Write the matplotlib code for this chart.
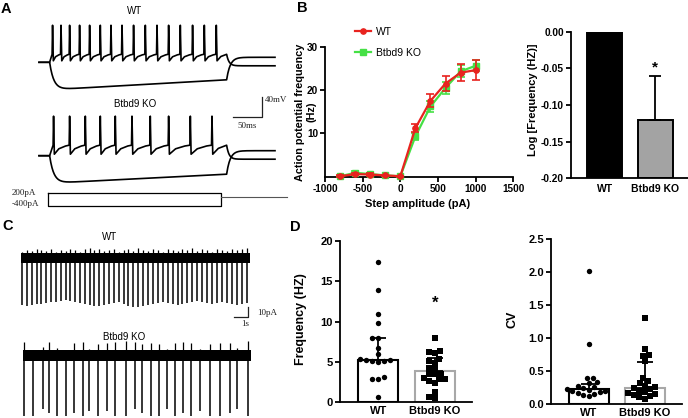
import numpy as np
import matplotlib
matplotlib.use('Agg')
import matplotlib.pyplot as plt
from matplotlib.lines import Line2D

plt.rcParams['font.family'] = ['Liberation Sans', 'DejaVu Sans']
plt.rcParams['axes.unicode_minus'] = False

# ---------------- data ----------------
# A: current-clamp traces, spike times (ms) during the +200 pA step
wt_spikes_ms = [22.5, 36.8, 51.4, 68.3, 85.3, 103.4, 121.5, 140.2, 159.8, 179.7,
                199.5, 219.2, 239.0, 259.8, 279.7, 300.0]
ko_spikes_ms = [24.2, 51.4, 78.0, 103.4, 128.8, 157.1, 188.1, 219.2, 256.0, 292.7]
rest_mv = -65
wt_peak_mv, wt_thr_mv, ko_peak_mv, ko_thr_mv = 9, -49, 14, -44
trough_mv = -60
hyp_min_mv, wt_hyp_end_mv, ko_hyp_end_mv = -120, -100, -102
rebound_mv, ahp_mv = -55, -72
onset_ms, offset_ms, end_ms = 18, 318, 400
stim_on_ms, stim_off_ms = 16, 308
stim_levels_pa = [200, -400]

# B: F-I curve
step_amp = [-800, -600, -400, -200, 0, 200, 400, 600, 800, 1000]
ap_wt = [0.1, 0.6, 0.5, 0.3, 0.1, 11.2, 17.5, 21.5, 24.0, 24.6]
ap_wt_err = [0.2, 0.3, 0.3, 0.2, 0.1, 0.9, 1.5, 1.8, 1.9, 2.4]
ap_ko = [0.1, 0.9, 0.6, 0.3, 0.1, 9.3, 16.2, 20.5, 24.3, 25.6]
ap_ko_err = [0.1, 0.4, 0.3, 0.2, 0.1, 0.8, 1.2, 1.4, 1.4, 1.3]

groups = ['WT', 'Btbd9 KO']
log_freq = [0.0, -0.12]
log_err = [0.0, 0.06]

# C: cell-attached recordings, spike times (s), spike sizes (pA)
wt_spike_t = [0.12, 0.45, 0.79, 1.14, 1.48, 1.82, 2.17, 2.52, 2.85, 3.20,
              3.55, 3.90, 4.22, 4.57, 4.93, 5.27, 5.61, 5.96, 6.31, 6.66,
              7.01, 7.35, 7.70, 8.04, 8.40, 8.75, 9.10, 9.46, 9.80, 10.15,
              10.51, 10.86, 11.21, 11.55, 11.90, 12.26, 12.61, 12.96, 13.30, 13.66,
              14.02, 14.37, 14.72, 15.07, 15.43, 15.78, 16.14]
wt_spike_down = [-47, -48, -47, -46, -46, -45, -44, -44, -43, -42,
                 -43, -44, -45, -46, -47, -48, -48, -47, -46, -45,
                 -44, -46, -48, -49, -49, -48, -47, -46, -45, -44,
                 -45, -46, -47, -46, -45, -44, -43, -44, -45, -46,
                 -45, -44, -45, -46, -47, -46, -45]
wt_spike_up = [6, 8, 7, 9, 8, 7, 9, 6, 8, 7,
               9, 8, 6, 9, 10, 8, 9, 7, 8, 9,
               6, 8, 9, 7, 10, 8, 7, 9, 8, 6,
               9, 8, 7, 9, 8, 10, 7, 9, 8, 6,
               9, 8, 7, 9, 8, 9, 10]
ko_spike_t = [0.24, 0.90, 1.57, 2.04, 2.61, 3.24, 3.81, 4.43, 4.90, 5.50,
              6.14, 6.74, 7.52, 8.16, 8.64, 9.29, 9.90, 10.43, 11.02, 11.57,
              12.14, 12.81, 13.52, 14.24, 14.95, 15.47, 16.26]
ko_spike_down = [-60, -60, -53, -57, -60, -60, -57, -60, -55, -60,
                 -55, -60, -60, -53, -57, -60, -60, -53, -60, -57,
                 -60, -55, -60, -60, -57, -53, -60]
ko_spike_up = [14, 6, 9, 14, 8, 6, 13, 14, 7, 12,
               13, 14, 15, 14, 12, 13, 12, 7, 13, 14,
               13, 7, 12, 13, 13, 8, 15]

# D: firing frequency and CV per cell
freq_wt = [17.4, 13.9, 10.9, 9.8, 7.9, 7.9, 6.7, 6.0, 5.3, 5.2,
           5.2, 5.1, 5.1, 5.0, 3.1, 2.8, 2.8, 0.6]
freq_ko = [7.9, 6.3, 6.2, 6.1, 5.4, 5.1, 4.9, 4.2, 4.2, 3.5,
           3.5, 3.5, 3.0, 2.9, 2.8, 2.6, 2.3, 1.3, 0.6, 0.5]
freq_bar = [5.2, 3.8]
freq_err_top = [7.9, 5.5]
cv_wt = [2.02, 0.91, 0.40, 0.40, 0.33, 0.32, 0.28, 0.26, 0.24, 0.22,
         0.21, 0.20, 0.19, 0.18, 0.16, 0.15, 0.14, 0.12]
cv_ko = [1.31, 0.84, 0.74, 0.73, 0.65, 0.40, 0.35, 0.32, 0.28, 0.26,
         0.24, 0.22, 0.20, 0.18, 0.16, 0.15, 0.13, 0.12, 0.10, 0.08]
cv_bar = [0.22, 0.25]
cv_err_top = [0.30, 0.64]

# ---------------- layout helpers ----------------
W, H = 688, 418
fig = plt.figure(figsize=(W / 100, H / 100), dpi=100)


def px_axes(x0, y0, x1, y1):
    return fig.add_axes([x0 / W, 1 - y1 / H, (x1 - x0) / W, (y1 - y0) / H])


def fig_text(x, y, s, **kw):
    fig.text(x / W, 1 - y / H, s, **kw)


serif = dict(family='Liberation Serif', fontsize=6.5, color='#222222')


def prism_axes(ax, ylim, yticks, ylabels, xlim=None, fs=7.5):
    for s in ['top', 'right']:
        ax.spines[s].set_visible(False)
    for s in ['left', 'bottom']:
        ax.spines[s].set_linewidth(1.3)
    ax.set_ylim(*ylim)
    if xlim is not None:
        ax.set_xlim(*xlim)
    ax.set_yticks(yticks, ylabels, fontsize=fs, fontweight='bold')
    ax.tick_params(width=1.3, length=3.5, pad=1.5)


def swarm(values, xc, y_px, x_px, d_px=5.6):
    # simple beeswarm: place points by value, nearest free offset from centre
    vals = np.asarray(values, float)
    placed = []
    xs = np.zeros(len(vals))
    cands = sorted(np.arange(-30, 30.01, 0.5), key=lambda c: (abs(c), c))
    for i in np.argsort(vals):
        y = vals[i] * y_px
        for c in cands:
            if all((c - px) ** 2 + (y - py) ** 2 >= d_px ** 2 for px, py in placed):
                break
        placed.append((c, y))
        xs[i] = xc + c / x_px
    return xs


# ---------------- panel A ----------------
ms_px, mv_px = 0.59, 0.5
trace_x0, wt_rest_y, ko_rest_y = 39, 62.3, 155.7
ko_shift = -(ko_rest_y - wt_rest_y) / mv_px

axA = px_axes(20, 0, 292, 215)
axA.set_xlim((20 - trace_x0) / ms_px, (292 - trace_x0) / ms_px)
axA.set_ylim(rest_mv - (215 - wt_rest_y) / mv_px, rest_mv + wt_rest_y / mv_px)
axA.axis('off')


def depol_trace(spikes, peak, thr):
    t, v = [0, onset_ms], [rest_mv, rest_mv]
    prev = None
    for ts in spikes:
        if prev is not None:
            t += [prev + 0.3 * (ts - prev), prev + 0.75 * (ts - prev)]
            v += [trough_mv + 0.55 * (thr - trough_mv), trough_mv + 0.9 * (thr - trough_mv)]
        t += [ts - 0.3, ts + 0.5, ts + 1.8]
        v += [thr, peak, trough_mv - 2]
        prev = ts + 1.8
    t += [prev + 0.4 * (offset_ms - prev), offset_ms]
    v += [trough_mv + 0.6 * (thr - trough_mv), thr]
    tt = np.linspace(offset_ms, end_ms, 80)
    vv = ahp_mv + (thr - ahp_mv) * np.exp(-(tt - offset_ms) / 4)
    return np.r_[t, tt], np.r_[v, vv]


def hyper_trace(vend):
    tt = np.linspace(onset_ms, offset_ms, 300)
    lin = hyp_min_mv + (vend - hyp_min_mv) * (tt - onset_ms) / (offset_ms - onset_ms)
    vv = rest_mv + (lin - rest_mv) * (1 - np.exp(-(tt - onset_ms) / 7))
    t2 = np.linspace(offset_ms, end_ms, 80)
    v2 = rebound_mv + (vv[-1] - rebound_mv) * np.exp(-(t2 - offset_ms) / 6)
    return np.r_[0, tt, t2], np.r_[rest_mv, vv, v2]


for spikes, peak, thr, vend, shift in [
        (wt_spikes_ms, wt_peak_mv, wt_thr_mv, wt_hyp_end_mv, 0),
        (ko_spikes_ms, ko_peak_mv, ko_thr_mv, ko_hyp_end_mv, ko_shift)]:
    t, v = depol_trace(spikes, peak, thr)
    axA.plot(t, v + shift, color='k', lw=1.2)
    t, v = hyper_trace(vend)
    axA.plot(t, v + shift, color='k', lw=1.2)

bar_t = (262.3 - trace_x0) / ms_px
bar_top = rest_mv - (96.7 - wt_rest_y) / mv_px
axA.plot([bar_t - 50, bar_t, bar_t], [bar_top - 40, bar_top - 40, bar_top], color='#222222', lw=0.9)
axA.text(bar_t + 4, bar_top - 7, '40mV', ha='left', va='center', **serif)
axA.text(bar_t - 25, bar_top - 51, '50ms', ha='center', va='top', **serif)

# stimulus
pa_px, zero_y = 0.0212, 197.4
axS = px_axes(20, 185, 292, 212)
axS.set_xlim(axA.get_xlim())
axS.set_ylim(-(212 - zero_y) / pa_px, (zero_y - 185) / pa_px)
axS.axis('off')
hi, lo = stim_levels_pa
axS.plot([stim_on_ms, stim_on_ms, stim_off_ms, stim_off_ms, stim_on_ms], [hi, lo, lo, hi, hi],
         color='k', lw=0.9)
axS.plot([stim_off_ms, end_ms + 20], [0, 0], color='#555555', lw=0.8)
fig_text(12, 193, '%dpA' % hi, ha='left', va='center', **serif)
fig_text(12, 203.5, '%dpA' % lo, ha='left', va='center', **serif)

fig_text(135, 11, 'WT', ha='center', va='center', fontsize=7)
fig_text(135, 104, 'Btbd9 KO', ha='center', va='center', fontsize=7)

# ---------------- panel C ----------------
s_px, c_x0, wt_c_y, ko_c_y = 14, 20.7, 258.3, 355.5
axC = px_axes(10, 228, 295, 418)
axC.set_xlim((10 - c_x0) / s_px, (295 - c_x0) / s_px)
axC.set_ylim(-(418 - wt_c_y), wt_c_y - 228)
axC.axis('off')
ko_off = -(ko_c_y - wt_c_y)

axC.fill_between([0, (250 - c_x0) / s_px], -5, 5, color='k', lw=0)
axC.vlines(wt_spike_t, wt_spike_down, 0, color='k', lw=1.1)
axC.vlines(wt_spike_t, 0, wt_spike_up, color='k', lw=0.9)
axC.fill_between([(23.3 - c_x0) / s_px, (251 - c_x0) / s_px], ko_off - 5.5, ko_off + 5.5,
                 color='k', lw=0)
axC.vlines(ko_spike_t, np.array(ko_spike_down) + ko_off, ko_off, color='k', lw=1.1)
axC.vlines(ko_spike_t, ko_off, np.array(ko_spike_up) + ko_off, color='k', lw=0.9)

cb_t = (248.3 - c_x0) / s_px
cb_top = -(306.7 - wt_c_y)
axC.plot([cb_t - 1, cb_t, cb_t], [cb_top - 10, cb_top - 10, cb_top], color='#222222', lw=0.9)
axC.text(cb_t + 0.65, cb_top - 6, '10pA', ha='left', va='center', **serif)
axC.text(cb_t - 0.25, cb_top - 13, '1s', ha='center', va='top', **serif)

fig_text(110, 237, 'WT', ha='center', va='center', fontsize=7)
fig_text(124, 337, 'Btbd9 KO', ha='center', va='center', fontsize=7)

# ---------------- panel B: F-I curve ----------------
red, green = '#e8231f', '#45e045'
axB = px_axes(325, 46.7, 513.3, 176.7)
prism_axes(axB, (0, 30), [10, 20, 30], ['10', '20', '30'], xlim=(-1000, 1500), fs=7.2)
axB.set_xticks(range(-1000, 1501, 500), [str(v) for v in range(-1000, 1501, 500)],
               fontsize=7.2, fontweight='bold')
axB.errorbar(step_amp, ap_ko, yerr=ap_ko_err, color=green, marker='s', ms=3.8, lw=1.6,
             elinewidth=1.2, capsize=2.8, capthick=1.2, clip_on=False, zorder=3)
axB.errorbar(step_amp, ap_wt, yerr=ap_wt_err, color=red, marker='o', ms=3.8, lw=1.6,
             elinewidth=1.2, capsize=2.8, capthick=1.2, clip_on=False, zorder=4)
handles = [Line2D([], [], color=red, marker='o', ms=3.8, lw=1.6),
           Line2D([], [], color=green, marker='s', ms=3.8, lw=1.6)]
fig.legend(handles, groups, loc='upper left', bbox_to_anchor=(355 / W, 1 - 27 / H),
           frameon=False, fontsize=7.5, handlelength=1.5, handletextpad=0.5,
           labelspacing=1.05, borderpad=0, borderaxespad=0)
fig_text(300, 112, 'Action potential frequency', rotation=90, ha='center', va='center',
         fontsize=7.8, fontweight='bold')
fig_text(311.5, 112, '(Hz)', rotation=90, ha='center', va='center',
         fontsize=7.8, fontweight='bold')
fig_text(418, 204, 'Step amplitude (pA)', ha='center', va='center', fontsize=8,
         fontweight='bold')

# ---------------- panel B: log frequency ----------------
axL = px_axes(570.7, 31.7, 688, 178.3)
prism_axes(axL, (-0.2, 0), [0, -0.05, -0.1, -0.15, -0.2],
           ['0.00', '-0.05', '-0.10', '-0.15', '-0.20'], xlim=(-0.67, 1.65), fs=7.3)
base = -0.2
axL.bar([0, 1], [v - base for v in log_freq], bottom=base, width=0.69,
        color=['k', '#a3a3a3'], edgecolor='k', linewidth=1.4, zorder=2)
axL.errorbar([1], [log_freq[1]], yerr=[[0], [log_err[1]]], fmt='none', ecolor='k',
             elinewidth=1.3, capsize=4.5, capthick=1.3, zorder=3)
axL.set_xticks([0, 1], groups, fontsize=7.5, fontweight='bold')
axL.tick_params(axis='x', length=0, pad=4)
axL.text(1, -0.049, '*', ha='center', va='center', fontsize=11, fontweight='bold')
fig_text(533, 100, 'Log [Frequency (HZ)]', rotation=90, ha='center', va='center',
         fontsize=8, fontweight='bold')

# ---------------- panel D ----------------
for box, vals, bars, tops, ylim, yticks, ylabels, ylab, lab_x, star in [
        ((340, 241, 472, 402), (freq_wt, freq_ko), freq_bar, freq_err_top, (0, 20),
         [0, 5, 10, 15, 20], ['0', '5', '10', '15', '20'], 'Frequency (HZ)', 301, 12.3),
        ((550.7, 239, 682, 404), (cv_wt, cv_ko), cv_bar, cv_err_top, (0, 2.5),
         [0, 0.5, 1, 1.5, 2, 2.5], ['0.0', '0.5', '1.0', '1.5', '2.0', '2.5'], 'CV', 513, None)]:
    ax = px_axes(*box)
    xlim = (-0.68, 1.66)
    prism_axes(ax, ylim, yticks, ylabels, xlim=xlim, fs=8)
    ax.bar([0, 1], bars, width=0.71, color='none', edgecolor=['k', '#a8a8a8'],
           linewidth=1.5, zorder=2)
    y_px = (box[3] - box[1]) / (ylim[1] - ylim[0])
    x_px = (box[2] - box[0]) / (xlim[1] - xlim[0])
    for i, (v, m) in enumerate(zip(vals, ['o', 's'])):
        ax.scatter(swarm(v, i, y_px, x_px), v, marker=m, s=15, color='k', lw=0,
                   zorder=3, clip_on=False)
    ax.errorbar([0, 1], bars, yerr=[[0, 0], [t - b for t, b in zip(tops, bars)]], fmt='none',
                ecolor='k', elinewidth=1.3, capsize=5.5, capthick=1.3, zorder=4)
    ax.set_xticks([0, 1], groups, fontsize=8, fontweight='bold')
    ax.tick_params(axis='x', length=0, pad=3)
    if star is not None:
        ax.text(1, star, '*', ha='center', va='center', fontsize=12, fontweight='bold')
    fig_text(lab_x, (box[1] + box[3]) / 2 - 2, ylab, rotation=90, ha='center', va='center',
             fontsize=9, fontweight='bold')

# panel letters
for x, y, s in [(6, 9, 'A'), (302, 8, 'B'), (7.5, 226, 'C'), (295, 227, 'D')]:
    fig_text(x, y, s, ha='center', va='center', fontsize=10.5, fontweight='bold')

fig.savefig('out.png', dpi=100)
